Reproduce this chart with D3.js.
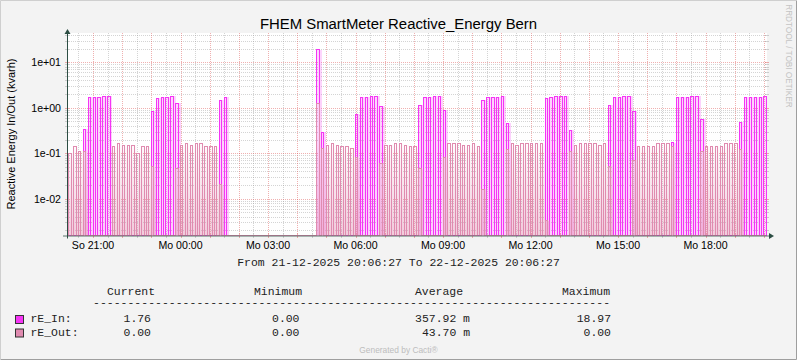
<!DOCTYPE html>
<html>
<head>
<meta charset="utf-8" />
<title>FHEM SmartMeter Reactive_Energy Bern</title>
<script src="https://cdn.jsdelivr.net/npm/d3@7"></script>
<style>
  body { margin: 0; background: #fff; }
  svg { display: block; }
</style>
</head>
<body>
<div id="chart"></div>
<script>
// one reading every 10 minutes, first one at 21-12-2025 20:10 (UTC used as local time)
// each reading fills one 5 min rrd step, the step after it stays empty
var slotStart = Date.UTC(2025, 11, 21, 20, 10);
var rangeStart = Date.UTC(2025, 11, 21, 20, 6, 27);
var rangeEnd = Date.UTC(2025, 11, 22, 20, 6, 27);

var rE_In = [
  0, 0, 0, 0.34, 1.72, 1.72, 1.72, 1.80, 1.80, 0, 0, 0,
  0, 0, 0, 0, 0, 0.85, 1.63, 1.72, 1.72, 1.80, 1.27, 0,
  0, 0, 0, 0, 0, 0, 0, 1.47, 1.72, 0, 0, 0,
  0, 0, 0, 0, 0, 0, 0, 0, 0, 0, 0, 0,
  0, 0, 0, 18.97, 0.29, 0, 0, 0, 0, 0, 0, 0.72,
  1.72, 1.72, 1.80, 1.80, 1.09, 0, 0, 0, 0, 0, 0, 0,
  1.14, 1.72, 1.72, 1.80, 1.80, 0.89, 0, 0, 0, 0, 0, 0,
  0, 1.47, 1.72, 1.72, 1.72, 1.80, 0.46, 0, 0, 0, 0, 0,
  0, 0, 1.63, 1.72, 1.80, 1.80, 1.80, 0.32, 0, 0, 0, 0,
  0, 0, 0, 1.14, 1.72, 1.72, 1.80, 1.80, 0.85, 0, 0, 0,
  0, 0, 0, 0, 0.17, 1.72, 1.72, 1.72, 1.80, 1.80, 0.56, 0,
  0, 0, 0, 0, 0, 0, 0.48, 1.72, 1.72, 1.72, 1.72, 1.76
];
var rE_Out = [
  0.10, 0.14, 0.11, 0.11, 0, 0, 0, 0, 0, 0.14, 0.16, 0.15,
  0.15, 0.15, 0.10, 0.14, 0.14, 0.05, 0, 0, 0, 0, 0.045, 0.15,
  0.16, 0.15, 0.16, 0.16, 0.14, 0.14, 0.14, 0.02, 0, 0, 0, 0,
  0, 0, 0, 0, 0, 0, 0, 0, 0, 0, 0, 0,
  0, 0, 0, 1.25, 0.13, 0.15, 0.16, 0.15, 0.14, 0.14, 0.13, 0.08,
  0, 0, 0, 0, 0.058, 0.15, 0.15, 0.16, 0.16, 0.15, 0.14, 0.14,
  0.045, 0, 0, 0, 0, 0.08, 0.16, 0.16, 0.16, 0.15, 0.15, 0.16,
  0.14, 0.016, 0, 0, 0, 0, 0.12, 0.16, 0.15, 0.16, 0.16, 0.16,
  0.16, 0.16, 0.0033, 0, 0, 0, 0, 0.11, 0.15, 0.16, 0.16, 0.16,
  0.16, 0.15, 0.16, 0.052, 0, 0, 0, 0, 0.07, 0.14, 0.14, 0.14,
  0.14, 0.16, 0.16, 0.16, 0.14, 0, 0, 0, 0, 0, 0.11, 0.14,
  0.14, 0.14, 0.14, 0.16, 0.16, 0.16, 0.12, 0, 0, 0, 0, 0
];

var yTicks = [10, 1, 0.1, 0.01];
var dayNames = ["So", "Mo", "Di", "Mi", "Do", "Fr", "Sa"];

var legendNames = ["rE_In:", "rE_Out:"];
var legendCurrent = ["1.76", "0.00"];
var legendMinimum = ["0.00", "0.00"];
var legendAverage = ["357.92 m", "43.70 m"];
var legendMaximum = ["18.97", "0.00"];

var W = 797, H = 360;
var X0 = 67, X1 = 767, Y0 = 235.5, Y1 = 33;
var colIn = "#F535F5", colOut = "#E08BB0", axisCol = "#2C4D43";
var sans = "'Liberation Sans', Arial, sans-serif";
var mono = "'Liberation Mono', 'Courier New', monospace";

var svg = d3.select("#chart").append("svg")
  .attr("width", W).attr("height", H)
  .style("font-family", sans);

var x = d3.scaleUtc().domain([new Date(rangeStart), new Date(rangeEnd)]).range([X0, X1]);
var y = d3.scaleLog().domain([0.001545, 44.3]).range([Y0, Y1]).clamp(true);
function yv(v) { return v > 0 ? y(v) : Y0; }

// background + shade frame
svg.append("rect").attr("width", W).attr("height", H).attr("fill", "#F3F3F3");
svg.append("path").attr("d", "M0.5," + (H - 1) + "V0.5H" + (W - 1)).attr("stroke", "#CFCFCF").attr("fill", "none");
svg.append("path").attr("d", "M0.5," + (H - 0.5) + "H" + (W - 0.5) + "V0.5").attr("stroke", "#9E9E9E").attr("fill", "none");
svg.append("rect").attr("x", X0).attr("y", Y1).attr("width", X1 - X0).attr("height", Y0 - Y1).attr("fill", "#FFFFFF");

var defs = svg.append("defs");
defs.append("clipPath").attr("id", "plotClip").append("rect")
  .attr("x", X0).attr("y", Y1 - 2).attr("width", X1 - X0).attr("height", Y0 - Y1 + 3);
var gOut = defs.append("linearGradient").attr("id", "gradOut")
  .attr("gradientUnits", "userSpaceOnUse").attr("x1", 0).attr("x2", 0).attr("y1", 142).attr("y2", Y0);
gOut.append("stop").attr("offset", 0).attr("stop-color", colOut).attr("stop-opacity", 0.02);
gOut.append("stop").attr("offset", 1).attr("stop-color", colOut).attr("stop-opacity", 0.45);
var gIn = defs.append("linearGradient").attr("id", "gradIn")
  .attr("gradientUnits", "userSpaceOnUse").attr("x1", 0).attr("x2", 0).attr("y1", Y1).attr("y2", Y0);
gIn.append("stop").attr("offset", 0).attr("stop-color", colIn).attr("stop-opacity", 0.2);
gIn.append("stop").attr("offset", 1).attr("stop-color", colIn).attr("stop-opacity", 0.25);

// grid
var grid = svg.append("g").attr("fill", "none");
var hourTicks = x.ticks(d3.utcHour.every(1));
var halfTicks = x.ticks(d3.utcMinute.every(30)).filter(function (d) { return d.getUTCMinutes() !== 0; });

function hLine(v, col, op) {
  var yy = Math.round(y(v)) + 0.5;
  grid.append("line").attr("x1", X0).attr("x2", X1).attr("y1", yy).attr("y2", yy)
    .attr("stroke", col).attr("stroke-opacity", op).attr("stroke-dasharray", "1,1");
  grid.append("line").attr("x1", X0 - 2).attr("x2", X0 + 2).attr("y1", yy).attr("y2", yy)
    .attr("stroke", col).attr("stroke-opacity", op);
  grid.append("line").attr("x1", X1 - 2).attr("x2", X1 + 2).attr("y1", yy).attr("y2", yy)
    .attr("stroke", col).attr("stroke-opacity", op);
}
function vLine(d, col, op) {
  var xx = Math.round(x(d)) + 0.5;
  grid.append("line").attr("x1", xx).attr("x2", xx).attr("y1", Y1).attr("y2", Y0)
    .attr("stroke", col).attr("stroke-opacity", op).attr("stroke-dasharray", "1,1");
  grid.append("line").attr("x1", xx).attr("x2", xx).attr("y1", Y0 - 2).attr("y2", Y0 + 2.5)
    .attr("stroke", col).attr("stroke-opacity", op);
}

var minorY = y.ticks().filter(function (v) { return yTicks.indexOf(v) < 0; });
minorY.forEach(function (v) { hLine(v, "#8F8F8F", 0.38); });
halfTicks.forEach(function (d) { vLine(d, "#8F8F8F", 0.38); });
hourTicks.forEach(function (d) { vLine(d, "#DE5050", 0.45); });
yTicks.forEach(function (v) { hLine(v, "#DE5050", 0.45); });

// data
function fillPoints(arr) {
  var pts = arr.map(function (v, i) { return { t: new Date(slotStart + i * 600000), v: v }; });
  pts.push({ t: new Date(slotStart + arr.length * 600000), v: 0 });
  return pts;
}
function linePoints(arr) {
  var pts = [];
  arr.forEach(function (v, i) {
    pts.push({ t: new Date(slotStart + i * 600000), v: v });
    pts.push({ t: new Date(slotStart + i * 600000 + 300000), v: 0 });
  });
  pts.unshift({ t: new Date(rangeStart), v: 0 });
  return pts;
}
var area = d3.area().curve(d3.curveStepAfter)
  .x(function (d) { return x(d.t); }).y0(Y0).y1(function (d) { return yv(d.v); });
var line = d3.line().curve(d3.curveStepAfter)
  .x(function (d) { return x(d.t); }).y(function (d) { return yv(d.v); });

var plot = svg.append("g").attr("clip-path", "url(#plotClip)");
plot.append("path").attr("d", area(fillPoints(rE_In))).attr("fill", "url(#gradIn)").attr("shape-rendering", "crispEdges");
plot.append("path").attr("d", line(linePoints(rE_In))).attr("fill", "none").attr("stroke", colIn).attr("shape-rendering", "crispEdges");
plot.append("path").attr("d", area(fillPoints(rE_Out))).attr("fill", "url(#gradOut)").attr("shape-rendering", "crispEdges");
plot.append("path").attr("d", line(linePoints(rE_Out))).attr("fill", "none").attr("stroke", colOut).attr("shape-rendering", "crispEdges");

// axes with arrows
svg.append("line").attr("x1", X0 - 4).attr("x2", X1 + 4).attr("y1", Y0 + 0.5).attr("y2", Y0 + 0.5)
  .attr("stroke", axisCol).attr("stroke-opacity", 0.75);
svg.append("line").attr("x1", X0 + 0.5).attr("x2", X0 + 0.5).attr("y1", Y0 + 3).attr("y2", Y1 - 3)
  .attr("stroke", axisCol);
svg.append("path").attr("d", "M" + (X0 + 0.5) + "," + (Y1 - 4) + "L" + (X0 - 2.5) + "," + (Y1 + 1) + "L" + (X0 + 3.5) + "," + (Y1 + 1) + "Z")
  .attr("fill", axisCol);
svg.append("path").attr("d", "M" + (X1 + 7) + "," + (Y0 + 0.5) + "L" + (X1 + 2) + "," + (Y0 - 2.5) + "L" + (X1 + 2) + "," + (Y0 + 3.5) + "Z")
  .attr("fill", axisCol);

// tick labels
var fmtHM = d3.utcFormat("%H:%M");
svg.append("g").selectAll("text").data(x.ticks(d3.utcHour.every(3))).join("text")
  .attr("x", function (d) { return x(d); }).attr("y", 249)
  .attr("text-anchor", "middle").attr("font-size", "10.6px").attr("fill", "#000")
  .text(function (d) { return dayNames[d.getUTCDay()] + " " + fmtHM(d); });

function expLabel(v) {
  var e = Math.round(Math.log10(v));
  return "1e" + (e < 0 ? "-" : "+") + (Math.abs(e) < 10 ? "0" : "") + Math.abs(e);
}
svg.append("g").selectAll("text").data(yTicks).join("text")
  .attr("x", 61).attr("y", function (v) { return y(v) + 4; })
  .attr("text-anchor", "end").attr("font-size", "10.6px").attr("fill", "#000")
  .text(expLabel);

// titles
svg.append("text").attr("x", 398.5).attr("y", 28.5).attr("text-anchor", "middle")
  .attr("font-size", "14.9px").attr("fill", "#000").text("FHEM SmartMeter Reactive_Energy Bern");
svg.append("text").attr("transform", "translate(15,134) rotate(-90)").attr("text-anchor", "middle")
  .attr("font-size", "11px").attr("fill", "#000").text("Reactive Energy In/Out (kvarh)");
svg.append("text").attr("transform", "translate(785.5,56) rotate(90)").attr("text-anchor", "middle")
  .attr("font-size", "8.2px").attr("fill", "#C4C4C4").text("RRDTOOL / TOBI OETIKER");
svg.append("text").attr("x", 398.5).attr("y", 353).attr("text-anchor", "middle")
  .attr("font-size", "8.4px").attr("fill", "#BDBDBD").text("Generated by Cacti\u00AE");

// legend
var leg = svg.append("g").attr("font-family", mono).attr("font-size", "11.45px").attr("fill", "#222");
leg.append("text").attr("x", 398.5).attr("y", 266).attr("text-anchor", "middle")
  .text("From 21-12-2025 20:06:27 To 22-12-2025 20:06:27");
[["Current", 107], ["Minimum", 254], ["Average", 415], ["Maximum", 562]].forEach(function (h) {
  leg.append("text").attr("x", h[1]).attr("y", 294.5).text(h[0]);
});
leg.append("text").attr("x", 93).attr("y", 306).attr("textLength", 517).attr("lengthAdjust", "spacing")
  .text(d3.range(75).map(function () { return "-"; }).join(""));

var rowY = [322, 335.5];
var cols = [legendCurrent, legendMinimum, legendAverage, legendMaximum];
var colEnds = [151, 299.5, 470, 611];
legendNames.forEach(function (name, i) {
  leg.append("rect").attr("x", 15.5).attr("y", rowY[i] - 6.5).attr("width", 8).attr("height", 8)
    .attr("fill", i === 0 ? colIn : colOut).attr("stroke", "#333").attr("stroke-width", 1);
  leg.append("text").attr("x", 30.5).attr("y", rowY[i]).text(name);
  cols.forEach(function (c, j) {
    leg.append("text").attr("x", colEnds[j]).attr("y", rowY[i]).attr("text-anchor", "end")
      .attr("xml:space", "preserve").text(c[i]);
  });
});
</script>
</body>
</html>
